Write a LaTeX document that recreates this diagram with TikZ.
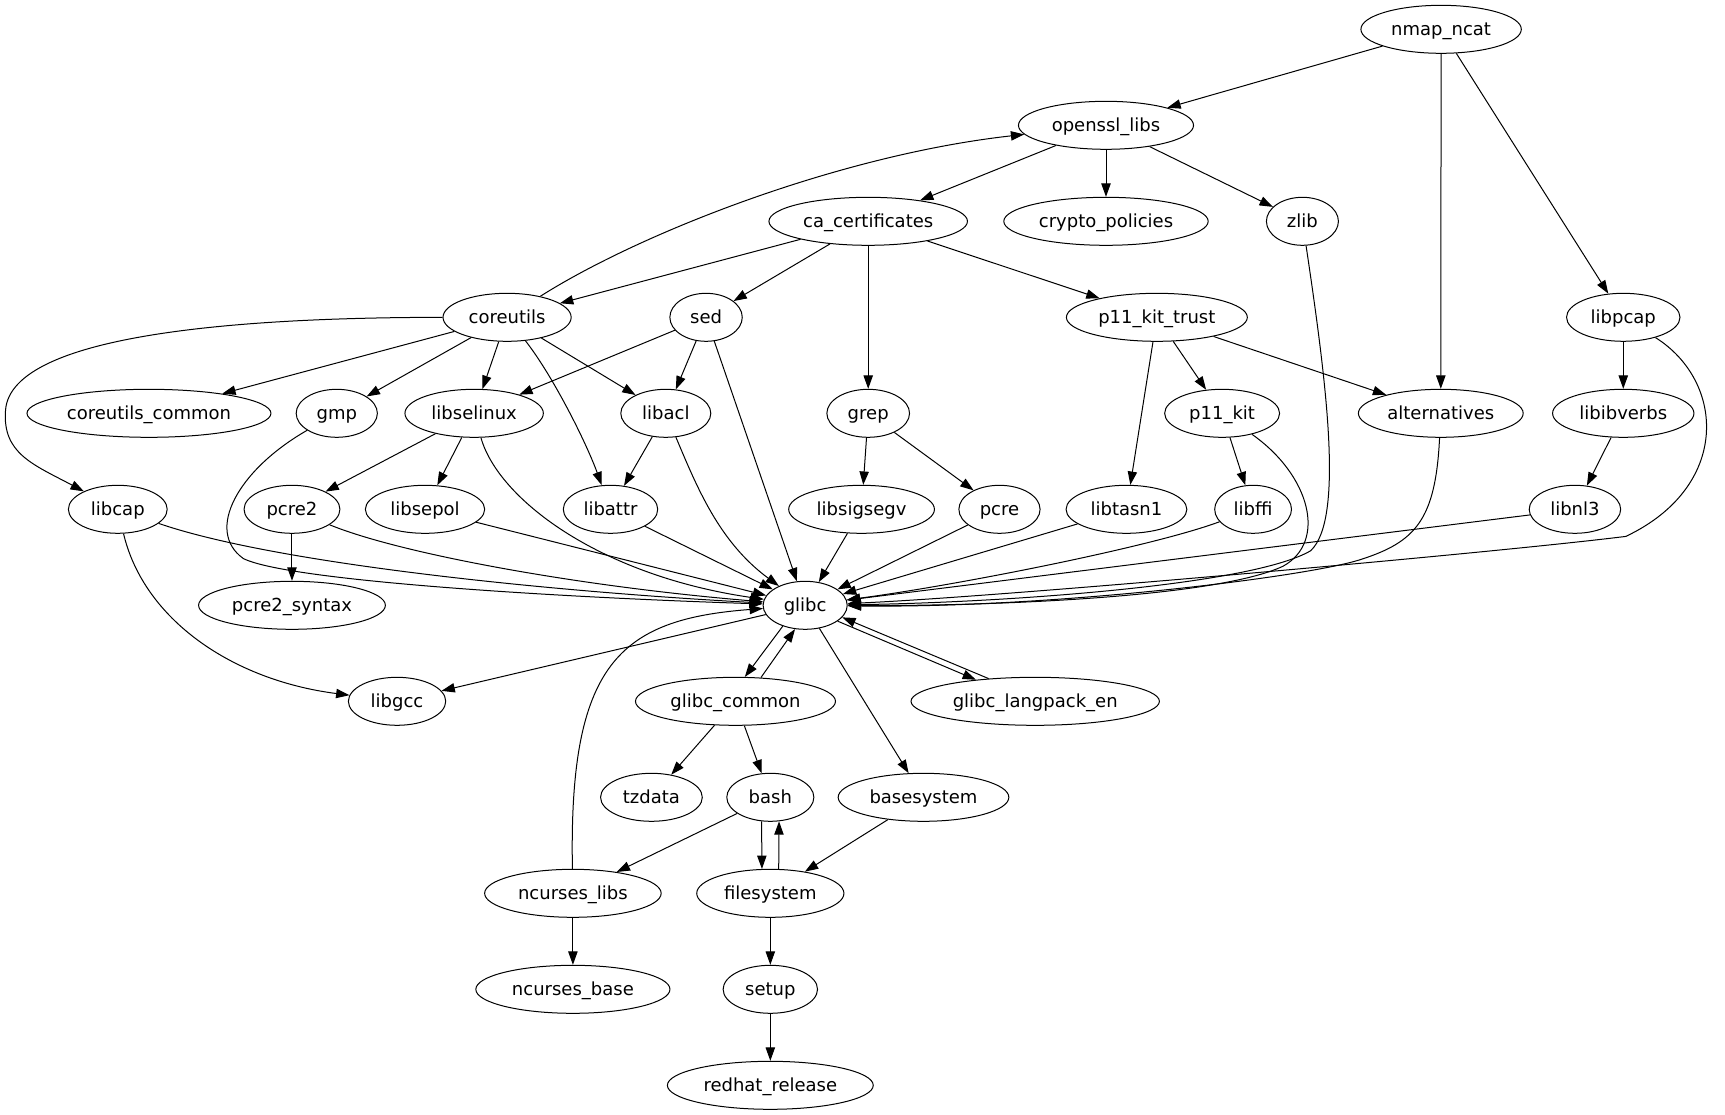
\documentclass[tikz,border=0pt]{standalone}
\usepackage{fontspec}
\setmainfont{DejaVu Sans}
\usetikzlibrary{arrows.meta,shapes.geometric}
\begin{document}
\begin{tikzpicture}[x=0.8295pt,y=-0.8295pt,line width=0.75pt,>={Triangle[length=10pt,width=7pt]},
  pkg/.style={draw,ellipse,inner sep=0pt,minimum height=36pt,text height=12pt,text depth=3pt,font=\fontsize{13.5}{16}\selectfont}]
\useasboundingbox (0,0) rectangle (1559.7,1008.1);
\node[pkg,minimum width=120.3pt] (nmapncat) at (1303,26.5) {nmap\_ncat};
\node[pkg,minimum width=131.3pt] (openssllibs) at (1000,113.3) {openssl\_libs};
\node[pkg,minimum width=148.9pt] (cacertificates) at (785,200.1) {ca\_certificates};
\node[pkg,minimum width=153.3pt] (cryptopolicies) at (1000,200.1) {crypto\_policies};
\node[pkg,minimum width=54pt] (zlib) at (1177.6,200.1) {zlib};
\node[pkg,minimum width=96.1pt] (coreutils) at (458.5,286.9) {coreutils};
\node[pkg,minimum width=54.3pt] (sed) at (638.4,286.9) {sed};
\node[pkg,minimum width=135.7pt] (p11kittrust) at (1046,286.9) {p11\_kit\_trust};
\node[pkg,minimum width=85.1pt] (libpcap) at (1467.7,286.9) {libpcap};
\node[pkg,minimum width=183pt] (coreutilscommon) at (134.7,373.7) {coreutils\_common};
\node[pkg,minimum width=60.9pt] (gmp) at (304.5,373.7) {gmp};
\node[pkg,minimum width=103.8pt] (libselinux) at (428.7,373.7) {libselinux};
\node[pkg,minimum width=67.5pt] (libacl) at (602,373.7) {libacl};
\node[pkg,minimum width=62pt] (grep) at (785,373.7) {grep};
\node[pkg,minimum width=86.2pt] (p11kit) at (1105,373.7) {p11\_kit};
\node[pkg,minimum width=123.6pt] (alternatives) at (1302.7,373.7) {alternatives};
\node[pkg,minimum width=106pt] (libibverbs) at (1467.7,373.7) {libibverbs};
\node[pkg,minimum width=74.1pt] (libcap) at (106.5,460.5) {libcap};
\node[pkg,minimum width=71.9pt] (pcretwo) at (264,460.5) {pcre2};
\node[pkg,minimum width=89.5pt] (libsepol) at (384.3,460.5) {libsepol};
\node[pkg,minimum width=70.8pt] (libattr) at (552,460.5) {libattr};
\node[pkg,minimum width=109.3pt] (libsigsegv) at (779,460.5) {libsigsegv};
\node[pkg,minimum width=60.9pt] (pcre) at (903.7,460.5) {pcre};
\node[pkg,minimum width=90.6pt] (libtasn) at (1018.5,460.5) {libtasn1};
\node[pkg,minimum width=57.6pt] (libffi) at (1133,460.5) {libffi};
\node[pkg,minimum width=68.6pt] (libnl) at (1424,460.5) {libnl3};
\node[pkg,minimum width=140.1pt] (pcresyntax) at (264,547.3) {pcre2\_syntax};
\node[pkg,minimum width=63.1pt] (glibc) at (728,547.3) {glibc};
\node[pkg,minimum width=73pt] (libgcc) at (359,634.1) {libgcc};
\node[pkg,minimum width=150pt] (glibccommon) at (665,634.1) {glibc\_common};
\node[pkg,minimum width=186.3pt] (glibclangpack) at (936,634.1) {glibc\_langpack\_en};
\node[pkg,minimum width=76.3pt] (tzdata) at (589,720.9) {tzdata};
\node[pkg,minimum width=65.3pt] (bash) at (696.5,720.9) {bash};
\node[pkg,minimum width=128pt] (basesystem) at (835,720.9) {basesystem};
\node[pkg,minimum width=132.4pt] (ncurseslibs) at (518,807.7) {ncurses\_libs};
\node[pkg,minimum width=110.4pt] (filesystem) at (696.5,807.7) {filesystem};
\node[pkg,minimum width=145.6pt] (ncursesbase) at (518,894.5) {ncurses\_base};
\node[pkg,minimum width=70.8pt] (setup) at (696.5,894.5) {setup};
\node[pkg,minimum width=154.4pt] (redhatrelease) at (696.5,981.3) {redhat\_release};
\draw[->] (nmapncat) -- (openssllibs);
\draw[->] (nmapncat) -- (alternatives);
\draw[->] (nmapncat) -- (libpcap);
\draw[->] (openssllibs) -- (cacertificates);
\draw[->] (openssllibs) -- (cryptopolicies);
\draw[->] (openssllibs) -- (zlib);
\draw[->] (coreutils) .. controls (580,210) and (760,140) .. (openssllibs);
\draw[->] (cacertificates) -- (coreutils);
\draw[->] (cacertificates) -- (sed);
\draw[->] (cacertificates) -- (grep);
\draw[->] (cacertificates) -- (p11kittrust);
\draw[->] (coreutils) .. controls (230,287) and (10,300) .. (5,371) .. controls (2,410) and (30,420) .. (libcap);
\draw[->] (coreutils) -- (coreutilscommon);
\draw[->] (coreutils) -- (gmp);
\draw[->] (coreutils) -- (libselinux);
\draw[->] (coreutils) -- (libacl);
\draw[->] (coreutils) .. controls (500,340) and (530,400) .. (libattr);
\draw[->] (sed) -- (libselinux);
\draw[->] (sed) -- (libacl);
\draw[->] (sed) -- (glibc);
\draw[->] (zlib) .. controls (1200,350) and (1215,470) .. (1185,498) .. controls (1130,530) and (900,545) .. (glibc);
\draw[->] (p11kittrust) -- (libtasn);
\draw[->] (p11kittrust) -- (p11kit);
\draw[->] (p11kittrust) -- (alternatives);
\draw[->] (libpcap) -- (libibverbs);
\draw[->] (libpcap) .. controls (1560,345) and (1565,440) .. (1470,485) .. controls (1350,500) and (900,540) .. (glibc);
\draw[->] (gmp) .. controls (215,425) and (185,480) .. (220,505) .. controls (260,525) and (500,540) .. (glibc);
\draw[->] (libselinux) -- (pcretwo);
\draw[->] (libselinux) -- (libsepol);
\draw[->] (libselinux) .. controls (450,450) and (540,520) .. (glibc);
\draw[->] (libacl) -- (libattr);
\draw[->] (libacl) .. controls (630,440) and (650,490) .. (glibc);
\draw[->] (grep) -- (libsigsegv);
\draw[->] (grep) -- (pcre);
\draw[->] (p11kit) -- (libffi);
\draw[->] (p11kit) .. controls (1185,430) and (1200,490) .. (1160,512) .. controls (1100,540) and (900,548) .. (glibc);
\draw[->] (alternatives) .. controls (1298,470) and (1280,490) .. (1230,506) .. controls (1180,522) and (950,550) .. (glibc);
\draw[->] (libibverbs) -- (libnl);
\draw[->] (libcap) .. controls (250,510) and (500,535) .. (glibc);
\draw[->] (libcap) .. controls (130,560) and (210,615) .. (libgcc);
\draw[->] (pcretwo) -- (pcresyntax);
\draw[->] (pcretwo) .. controls (360,500) and (520,530) .. (glibc);
\draw[->] (libsepol) -- (glibc);
\draw[->] (libattr) -- (glibc);
\draw[->] (libsigsegv) -- (glibc);
\draw[->] (pcre) -- (glibc);
\draw[->] (libtasn) -- (glibc);
\draw[->] (libffi) .. controls (1040,495) and (860,530) .. (glibc);
\draw[->] (libnl) -- (glibc);
\draw[->] (glibc) -- (libgcc);
\draw[->] (glibc.-137) -- (glibccommon.69);
\draw[->] (glibccommon.43) -- (glibc.-113);
\draw[->] (glibc.-26) -- (glibclangpack.160);
\draw[->] (glibclangpack.154) -- (glibc.-18);
\draw[->] (glibc) -- (basesystem);
\draw[->] (glibccommon) -- (tzdata);
\draw[->] (glibccommon) -- (bash);
\draw[->] (bash) -- (ncurseslibs);
\draw[->] (bash.-110) -- (filesystem.109);
\draw[->] (filesystem.71) -- (bash.-70);
\draw[->] (basesystem) -- (filesystem);
\draw[->] (ncurseslibs) .. controls (514,600) and (560,560) .. (glibc);
\draw[->] (ncurseslibs) -- (ncursesbase);
\draw[->] (filesystem) -- (setup);
\draw[->] (setup) -- (redhatrelease);
\end{tikzpicture}
\end{document}
